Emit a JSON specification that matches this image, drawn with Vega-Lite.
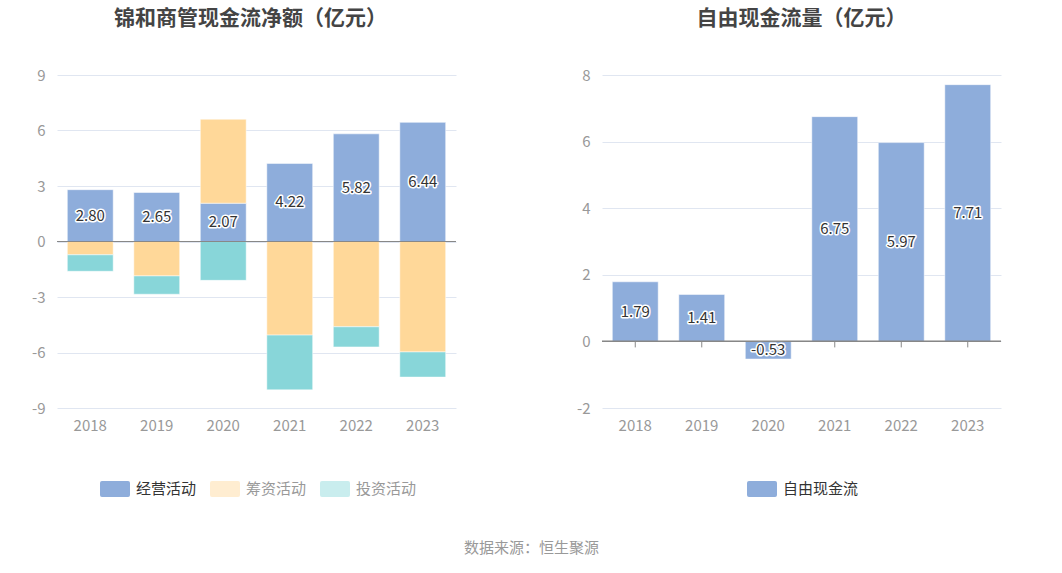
{
  "$schema": "https://vega.github.io/schema/vega-lite/v6.json",
  "background": "white",
  "padding": {"left": 31, "top": 8, "right": 20, "bottom": 10},
  "config": {
    "font": "Noto Sans CJK SC",
    "locale": {"number": {"decimal": ".", "thousands": ",", "grouping": [3], "currency": ["", ""], "minus": "-"}},
    "view": {"stroke": null},
    "axisX": {"title": null, "labelAngle": 0, "domain": false, "ticks": false, "grid": false, "labelColor": "#999999", "labelFontSize": 15, "labelPadding": 10, "labelFont": "Noto Sans CJK SC"},
    "axisY": {"title": null, "domain": false, "ticks": false, "grid": true, "gridColor": "#E0E6F1", "labelColor": "#999999", "labelFontSize": 15, "labelPadding": 12, "labelFont": "Noto Sans CJK SC"},
    "legend": {"orient": "none", "direction": "horizontal", "title": null, "labelFontSize": 15, "labelFont": "Noto Sans CJK SC", "labelOffset": 6, "columnPadding": 13, "symbolSize": 900, "symbolStrokeWidth": 0, "symbolType": "M-0.87,-0.533 H0.87 Q1,-0.533 1,-0.4 V0.4 Q1,0.533 0.87,0.533 H-0.87 Q-1,0.533 -1,0.4 V-0.4 Q-1,-0.533 -0.87,-0.533 Z"}
  },
  "title": {"text": "数据来源：恒生聚源", "orient": "bottom", "anchor": "middle", "fontSize": 15, "fontWeight": "normal", "color": "#999999", "offset": 44, "dx": 15, "font": "Noto Sans CJK SC"},
  "spacing": 119,
  "resolve": {"scale": {"color": "independent"}, "legend": {"color": "independent"}},
  "hconcat": [
    {
      "width": 399,
      "height": 333,
      "title": {"text": "锦和商管现金流净额（亿元）", "fontSize": 21, "fontWeight": "bold", "color": "#444444", "anchor": "middle", "offset": 39, "font": "Noto Sans CJK SC", "dx": -6},
      "data": {"values": [
        {"year": "2018", "type": "经营活动", "value": 2.80},
        {"year": "2018", "type": "筹资活动", "value": -0.72},
        {"year": "2018", "type": "投资活动", "value": -0.89},
        {"year": "2019", "type": "经营活动", "value": 2.65},
        {"year": "2019", "type": "筹资活动", "value": -1.86},
        {"year": "2019", "type": "投资活动", "value": -0.99},
        {"year": "2020", "type": "经营活动", "value": 2.07},
        {"year": "2020", "type": "筹资活动", "value": 4.54},
        {"year": "2020", "type": "投资活动", "value": -2.10},
        {"year": "2021", "type": "经营活动", "value": 4.22},
        {"year": "2021", "type": "筹资活动", "value": -5.06},
        {"year": "2021", "type": "投资活动", "value": -2.96},
        {"year": "2022", "type": "经营活动", "value": 5.82},
        {"year": "2022", "type": "筹资活动", "value": -4.61},
        {"year": "2022", "type": "投资活动", "value": -1.09},
        {"year": "2023", "type": "经营活动", "value": 6.44},
        {"year": "2023", "type": "筹资活动", "value": -5.97},
        {"year": "2023", "type": "投资活动", "value": -1.36}
      ]},
      "layer": [
        {
          "mark": {"type": "bar", "stroke": "#ffffff", "strokeWidth": 1, "strokeOpacity": 0.5},
          "encoding": {
            "x": {"field": "year", "type": "nominal", "scale": {"paddingInner": 0.31, "paddingOuter": 0.155}},
            "y": {"field": "value", "type": "quantitative", "stack": "zero", "scale": {"domain": [-9, 9], "nice": false}, "axis": {"values": [-9, -6, -3, 0, 3, 6, 9]}},
            "color": {"field": "type", "type": "nominal", "scale": {"domain": ["经营活动", "筹资活动", "投资活动"], "range": ["#8EADDB", "#FFD899", "#88D6D9"]},
              "legend": {"legendX": 43, "legendY": 399, "symbolOpacity": {"expr": "datum.label == '经营活动' ? 1 : 0.45"}, "labelColor": {"expr": "datum.label == '经营活动' ? '#333333' : '#999999'"}}},
            "order": {"field": "type", "sort": "descending"}
          }
        },
        {
          "mark": {"type": "rule", "color": "#888888", "strokeWidth": 1},
          "encoding": {"y": {"datum": 0, "type": "quantitative"}}
        },
        {
          "transform": [{"filter": "datum.type === '经营活动'"}, {"calculate": "datum.value / 2", "as": "mid"}],
          "mark": {"type": "text", "fontSize": 15, "color": "#333333", "stroke": "#ffffff", "strokeWidth": 3, "strokeJoin": "round", "font": "Noto Sans CJK SC"},
          "encoding": {
            "x": {"field": "year", "type": "nominal"},
            "y": {"field": "mid", "type": "quantitative"},
            "text": {"field": "value", "type": "quantitative", "format": ".2f"}
          }
        },
        {
          "transform": [{"filter": "datum.type === '经营活动'"}, {"calculate": "datum.value / 2", "as": "mid"}],
          "mark": {"type": "text", "fontSize": 15, "color": "#333333", "font": "Noto Sans CJK SC"},
          "encoding": {
            "x": {"field": "year", "type": "nominal"},
            "y": {"field": "mid", "type": "quantitative"},
            "text": {"field": "value", "type": "quantitative", "format": ".2f"}
          }
        }
      ]
    },
    {
      "width": 399,
      "height": 333,
      "title": {"text": "自由现金流量（亿元）", "fontSize": 21, "fontWeight": "bold", "color": "#444444", "anchor": "middle", "offset": 39, "font": "Noto Sans CJK SC"},
      "data": {"values": [
        {"year": "2018", "name": "自由现金流", "value": 1.79},
        {"year": "2019", "name": "自由现金流", "value": 1.41},
        {"year": "2020", "name": "自由现金流", "value": -0.53},
        {"year": "2021", "name": "自由现金流", "value": 6.75},
        {"year": "2022", "name": "自由现金流", "value": 5.97},
        {"year": "2023", "name": "自由现金流", "value": 7.71}
      ]},
      "layer": [
        {
          "mark": {"type": "rule", "color": "#888888", "strokeWidth": 1},
          "encoding": {
            "x": {"field": "year", "type": "nominal", "scale": {"paddingInner": 0.31, "paddingOuter": 0.155}},
            "y": {"datum": 0, "type": "quantitative"},
            "y2": {"datum": -0.18}
          }
        },
        {
          "mark": {"type": "bar", "stroke": "#ffffff", "strokeWidth": 1, "strokeOpacity": 0.5},
          "encoding": {
            "x": {"field": "year", "type": "nominal"},
            "y": {"field": "value", "type": "quantitative", "scale": {"domain": [-2, 8], "nice": false}, "axis": {"values": [-2, 0, 2, 4, 6, 8]}},
            "color": {"field": "name", "type": "nominal", "scale": {"domain": ["自由现金流"], "range": ["#8EADDB"]}, "legend": {"legendX": 145, "legendY": 399, "labelColor": "#333333"}}
          }
        },
        {
          "mark": {"type": "rule", "color": "#888888", "strokeWidth": 1},
          "encoding": {"y": {"datum": 0, "type": "quantitative"}}
        },
        {
          "transform": [{"calculate": "datum.value / 2", "as": "mid"}],
          "mark": {"type": "text", "fontSize": 15, "color": "#333333", "stroke": "#ffffff", "strokeWidth": 3, "strokeJoin": "round", "font": "Noto Sans CJK SC"},
          "encoding": {
            "x": {"field": "year", "type": "nominal"},
            "y": {"field": "mid", "type": "quantitative"},
            "text": {"field": "value", "type": "quantitative", "format": ".2f"}
          }
        },
        {
          "transform": [{"calculate": "datum.value / 2", "as": "mid"}],
          "mark": {"type": "text", "fontSize": 15, "color": "#333333", "font": "Noto Sans CJK SC"},
          "encoding": {
            "x": {"field": "year", "type": "nominal"},
            "y": {"field": "mid", "type": "quantitative"},
            "text": {"field": "value", "type": "quantitative", "format": ".2f"}
          }
        }
      ]
    }
  ]
}
